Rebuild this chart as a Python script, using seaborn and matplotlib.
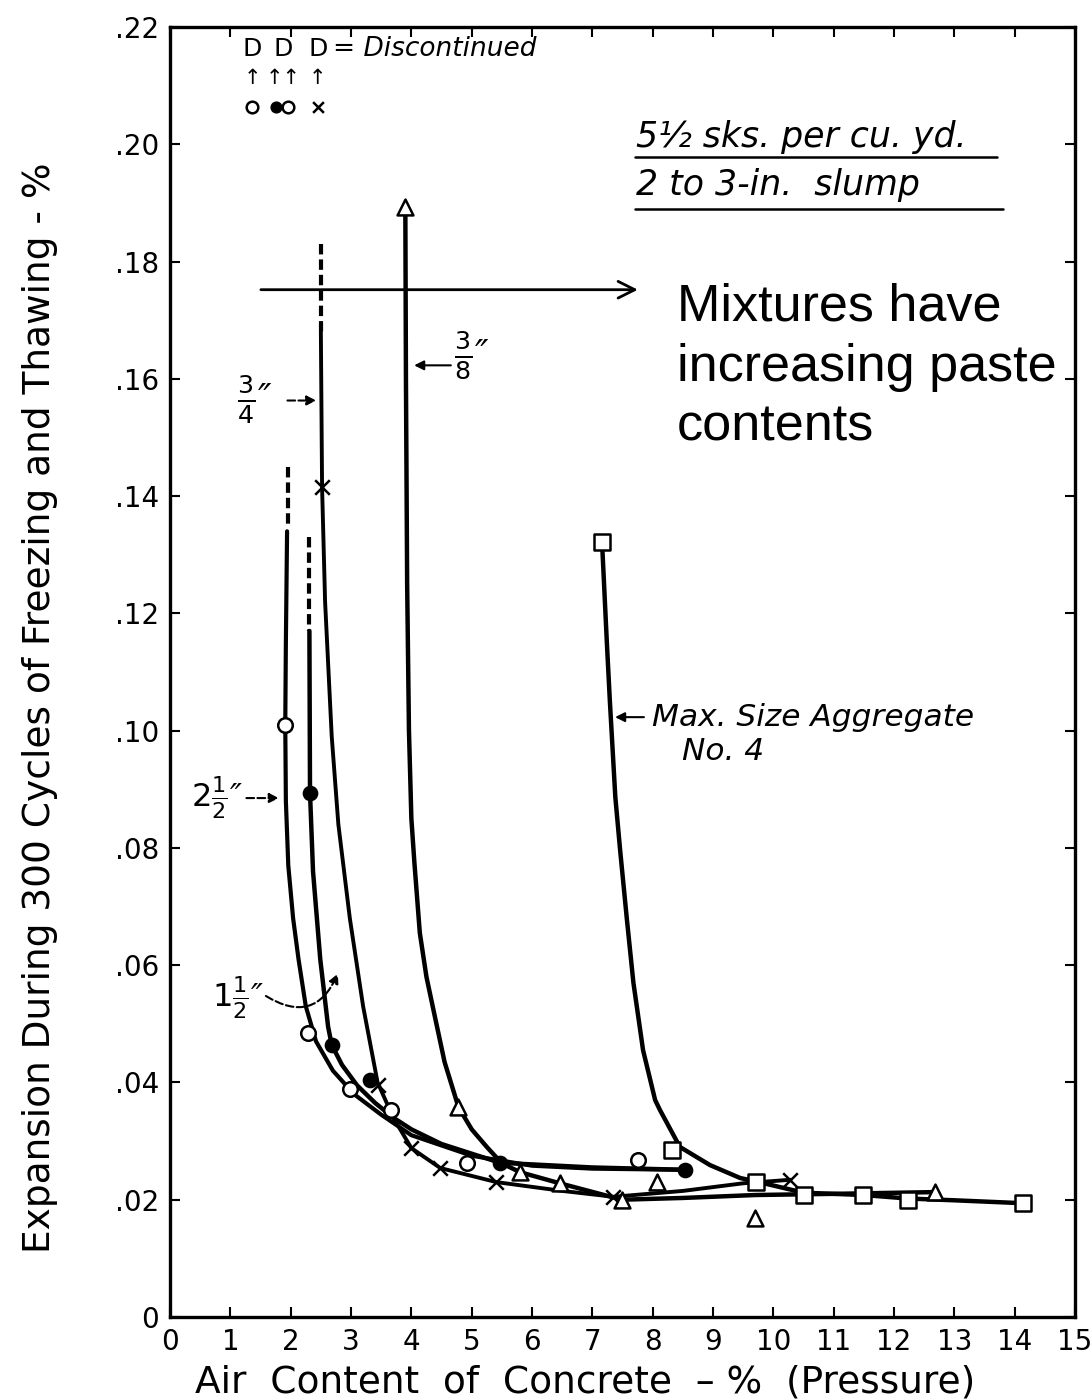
import numpy as np
import pandas as pd
import matplotlib
matplotlib.use("Agg")
import matplotlib.pyplot as plt
import seaborn as sns

# ---- data: expansion vs. air content for each max. aggregate size ----
# marker points (air %, expansion %)
pts_25_x = [1.91, 2.29, 2.98, 3.67, 4.92, 7.76]            # 2 1/2" (open circles)
pts_25_y = [0.101, 0.0484, 0.0389, 0.0353, 0.0263, 0.0268]
pts_15_x = [2.32, 2.68, 3.32, 5.47, 8.54]                  # 1 1/2" (filled circles)
pts_15_y = [0.0894, 0.0464, 0.0404, 0.0263, 0.0251]
pts_34_x = [2.52, 3.44, 4.00, 4.48, 5.41, 7.35, 10.28]     # 3/4" (crosses)
pts_34_y = [0.1415, 0.0395, 0.0288, 0.0254, 0.0230, 0.0205, 0.0234]
pts_38_x = [3.90, 4.78, 5.80, 6.46, 7.49, 8.07, 9.70, 12.68]   # 3/8" (triangles)
pts_38_y = [0.1893, 0.0358, 0.0247, 0.0228, 0.0200, 0.0230, 0.0169, 0.0213]
pts_n4_x = [7.16, 8.32, 9.72, 10.50, 11.49, 12.23, 14.14]  # No. 4 (squares)
pts_n4_y = [0.1322, 0.0285, 0.0231, 0.0208, 0.0208, 0.0200, 0.0194]

# faired curves drawn through the results
crv_25_x = [1.94, 1.92, 1.91, 1.92, 1.96, 2.04, 2.13, 2.25, 2.42, 2.70, 3.05, 3.50, 4.00, 5.00, 6.00, 7.00, 8.54]
crv_25_y = [0.134, 0.115, 0.101, 0.088, 0.077, 0.068, 0.061, 0.053, 0.047, 0.042, 0.038, 0.0345, 0.031, 0.0275, 0.0258, 0.0253, 0.0251]
crv_15_x = [2.31, 2.32, 2.37, 2.49, 2.62, 2.68, 2.85, 3.10, 3.40, 3.70, 4.00, 4.50, 5.47, 7.00, 8.54]
crv_15_y = [0.117, 0.0894, 0.076, 0.061, 0.0495, 0.0464, 0.043, 0.0395, 0.0365, 0.034, 0.032, 0.0295, 0.0263, 0.0255, 0.0251]
crv_34_x = [2.50, 2.52, 2.57, 2.68, 2.79, 2.98, 3.20, 3.44, 3.70, 4.00, 4.48, 5.41, 6.50, 7.35, 8.50, 9.50, 10.28]
crv_34_y = [0.168, 0.1415, 0.122, 0.099, 0.084, 0.068, 0.053, 0.040, 0.034, 0.0288, 0.0254, 0.0230, 0.0215, 0.0205, 0.0215, 0.0228, 0.0234]
crv_38_x = [3.90, 3.91, 3.93, 3.96, 4.00, 4.05, 4.14, 4.25, 4.39, 4.55, 4.78, 5.00, 5.25, 5.50, 5.80, 6.46, 7.49, 8.50, 9.70, 11.00, 12.68]
crv_38_y = [0.1893, 0.160, 0.125, 0.100, 0.085, 0.0775, 0.0655, 0.058, 0.0512, 0.0435, 0.0358, 0.032, 0.029, 0.0262, 0.0247, 0.0228, 0.0200, 0.0203, 0.0208, 0.0210, 0.0213]
crv_n4_x = [7.16, 7.24, 7.29, 7.38, 7.46, 7.57, 7.68, 7.84, 8.04, 8.12, 8.45, 8.95, 9.45, 9.72, 10.50, 11.49, 12.23, 13.00, 14.14]
crv_n4_y = [0.1322, 0.115, 0.105, 0.0887, 0.0796, 0.068, 0.057, 0.0455, 0.037, 0.0353, 0.029, 0.0259, 0.0237, 0.0231, 0.0212, 0.0208, 0.0202, 0.0199, 0.0194]

# dashed (discontinued) extensions
dash_25_x, dash_25_y = [1.95, 1.95], [0.145, 0.135]
dash_15_x, dash_15_y = [2.30, 2.30], [0.133, 0.117]
dash_34_x, dash_34_y = [2.50, 2.50], [0.183, 0.168]

x_ticks = list(range(0, 16))
x_tick_labels = [str(v) for v in x_ticks]
y_ticks = [0, 0.02, 0.04, 0.06, 0.08, 0.10, 0.12, 0.14, 0.16, 0.18, 0.20, 0.22]
y_tick_labels = ["0", ".02", ".04", ".06", ".08", ".10", ".12", ".14", ".16", ".18", ".20", ".22"]

# ---- figure ----
sns.set_theme(style="ticks")
plt.rcParams["font.family"] = ["DejaVu Sans"]

fig = plt.figure(figsize=(10.92, 14.0), dpi=100)
ax = fig.add_axes([0.1557, 0.0593, 0.8288, 0.9214])
ax.set_xlim(0, 15)
ax.set_ylim(0, 0.22)

K = "black"

def curve(xs, ys, lw=3.0, dashed=False):
    df = pd.DataFrame({"x": xs, "y": ys})
    l = sns.lineplot(data=df, x="x", y="y", sort=False, estimator=None,
                     color=K, linewidth=lw, ax=ax)
    line = l.lines[-1]
    line.set_solid_joinstyle("round")
    if dashed:
        line.set_dashes((2.5, 1.2))

curve(crv_25_x, crv_25_y, lw=3.0)
curve(crv_15_x, crv_15_y, lw=3.2)
curve(crv_34_x, crv_34_y, lw=2.8)
curve(crv_38_x, crv_38_y, lw=3.2)
curve(crv_n4_x, crv_n4_y, lw=3.2)
curve(dash_25_x, dash_25_y, lw=3.0, dashed=True)
curve(dash_15_x, dash_15_y, lw=3.0, dashed=True)
curve(dash_34_x, dash_34_y, lw=3.0, dashed=True)

def points(xs, ys, marker, face, size):
    df = pd.DataFrame({"x": xs, "y": ys})
    if marker == "x":
        sns.scatterplot(data=df, x="x", y="y", marker="x", color=K, s=size,
                        linewidth=1.8, ax=ax, zorder=5)
    else:
        sns.scatterplot(data=df, x="x", y="y", marker=marker, s=size,
                        facecolor=face, edgecolor=K, linewidth=1.8, ax=ax, zorder=5)

points(pts_25_x, pts_25_y, "o", "white", 110)
points(pts_15_x, pts_15_y, "o", K, 90)
points(pts_34_x, pts_34_y, "x", K, 110)
points(pts_38_x, pts_38_y, "^", "white", 130)
points(pts_n4_x, pts_n4_y, "s", "white", 130)

# ---- axes styling ----
for s in ax.spines.values():
    s.set_linewidth(2.4)
    s.set_color(K)
ax.set_xticks(x_ticks)
ax.set_xticklabels(x_tick_labels)
ax.set_yticks(y_ticks)
ax.set_yticklabels(y_tick_labels)
ax.tick_params(direction="in", length=7, width=1.5, top=True, right=True,
               labelsize=20, colors=K, pad=8)
ax.set_xlabel("Air  Content  of  Concrete  \u2013 %  (Pressure)", fontsize=27,
              labelpad=2, color=K)
ax.xaxis.set_label_coords(0.459, -0.037)
ax.set_ylabel("Expansion During 300 Cycles of Freezing and Thawing - %",
              fontsize=27, color=K)
ax.yaxis.set_label_coords(-0.124, 0.472)

# ---- annotations ----
it = dict(style="italic", color=K)

# discontinued key
for xk in [1.36, 1.87, 2.45]:
    ax.text(xk, 0.2162, "D", ha="center", va="center", fontsize=18, color=K)
ax.text(1.36, 0.2113, "\u2191", ha="center", va="center", fontsize=15, color=K)
ax.text(1.87, 0.2113, "\u2191\u2191", ha="center", va="center", fontsize=15, color=K)
ax.text(2.45, 0.2113, "\u2191", ha="center", va="center", fontsize=15, color=K)
ax.scatter([1.36, 1.95], [0.2063, 0.2063], marker="o", s=70, facecolor="white",
           edgecolor=K, linewidth=1.8, zorder=5)
ax.scatter([1.75], [0.2063], marker="o", s=60, color=K, zorder=5)
ax.scatter([2.45], [0.2063], marker="x", s=60, color=K, linewidth=1.8, zorder=5)
ax.text(2.70, 0.2163, "= Discontinued", ha="left", va="center", fontsize=19, **it)

# mix description
ax.text(7.72, 0.2013, "5\u00bd sks. per cu. yd.", ha="left", va="center",
        fontsize=25, **it)
ax.text(7.72, 0.1930, "2 to 3-in.  slump", ha="left", va="center",
        fontsize=25, **it)
ax.plot([7.7, 13.7], [0.1978, 0.1978], color=K, lw=1.8)
ax.plot([7.7, 13.8], [0.1890, 0.1890], color=K, lw=1.8)

# size labels
ax.text(1.40, 0.1565, r"$\frac{3}{4}$" + "\u2033", ha="center", va="center",
        fontsize=26, **it)
ax.annotate("", xy=(2.47, 0.1563), xytext=(1.90, 0.1563),
            arrowprops=dict(arrowstyle="-|>", color=K, lw=1.5, linestyle="--",
                            mutation_scale=14))
ax.text(5.00, 0.1640, r"$\frac{3}{8}$" + "\u2033", ha="center", va="center",
        fontsize=26, **it)
ax.annotate("", xy=(4.00, 0.1623), xytext=(4.70, 0.1623),
            arrowprops=dict(arrowstyle="-|>", color=K, lw=1.5, mutation_scale=14))
ax.text(0.78, 0.0885, r"$2\frac{1}{2}$" + "\u2033", ha="center", va="center",
        fontsize=23, **it)
ax.annotate("", xy=(1.85, 0.0885), xytext=(1.22, 0.0885),
            arrowprops=dict(arrowstyle="-|>", color=K, lw=1.5, linestyle="--",
                            mutation_scale=14))
ax.text(1.13, 0.0545, r"$1\frac{1}{2}$" + "\u2033", ha="center", va="center",
        fontsize=23, **it)
ax.annotate("", xy=(2.80, 0.0590), xytext=(1.55, 0.0550),
            arrowprops=dict(arrowstyle="-|>", color=K, lw=1.5, linestyle="--",
                            connectionstyle="arc3,rad=0.6", mutation_scale=14))
ax.text(7.98, 0.1023, "Max. Size Aggregate", ha="left", va="center",
        fontsize=22.5, **it)
ax.text(8.48, 0.0965, "No. 4", ha="left", va="center", fontsize=22.5, **it)
ax.annotate("", xy=(7.33, 0.1023), xytext=(7.90, 0.1023),
            arrowprops=dict(arrowstyle="-|>", color=K, lw=1.5, mutation_scale=14))

# paste-content note
ax.annotate("", xy=(7.80, 0.1752), xytext=(1.46, 0.1752),
            arrowprops=dict(arrowstyle="->", color=K, lw=2.0, mutation_scale=30))
ax.text(8.40, 0.1620, "Mixtures have\nincreasing paste\ncontents", ha="left",
        va="center", fontsize=37.5, family=["Liberation Sans", "DejaVu Sans"],
        color=K, linespacing=1.28, clip_on=False)

fig.savefig("out.png", dpi=100, facecolor="white")
